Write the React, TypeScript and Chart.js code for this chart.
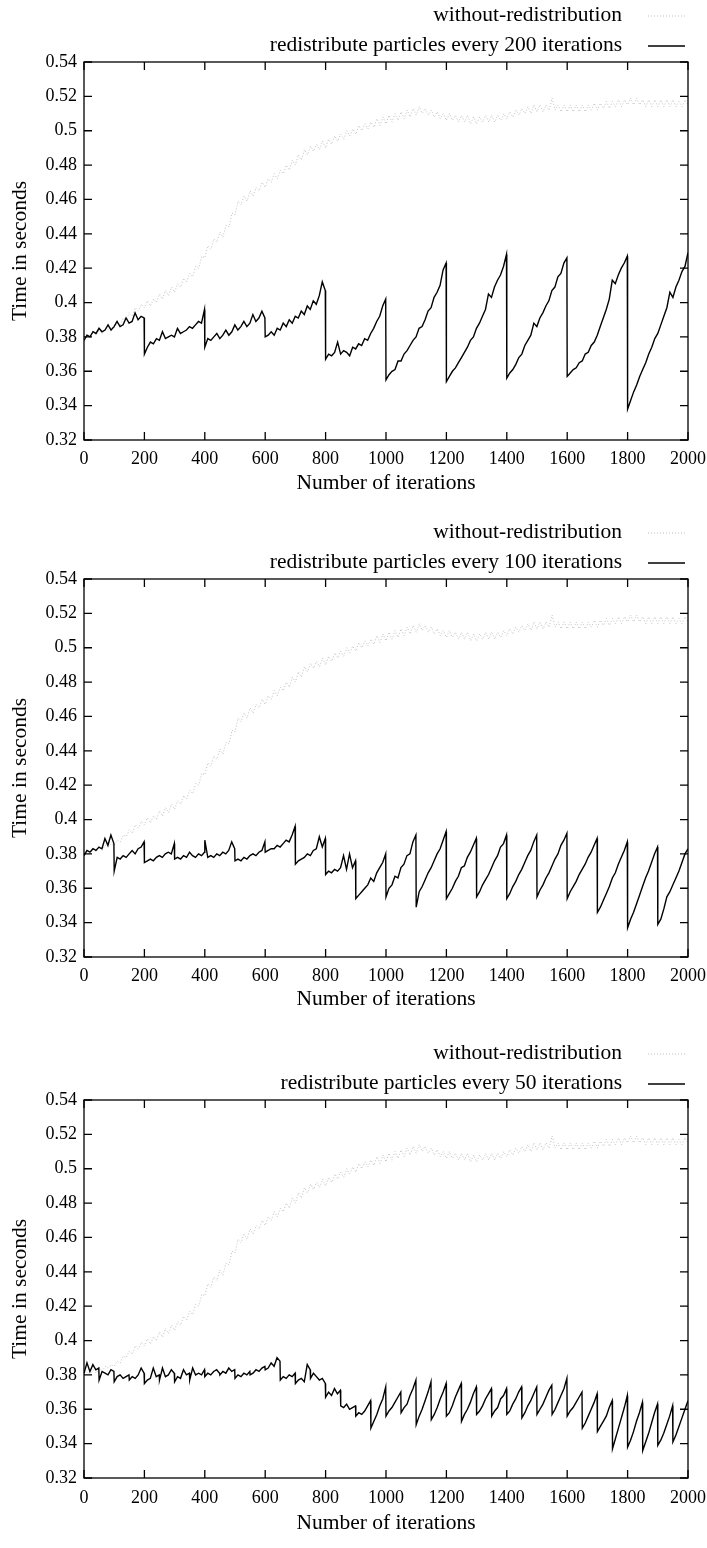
import React, { useEffect, useRef } from "react";
import { Chart, registerables } from "chart.js";

Chart.register(...registerables);

// ---------- axes ----------
const ITER_MIN = 0;
const ITER_MAX = 2000;
const X_TICKS = [0, 200, 400, 600, 800, 1000, 1200, 1400, 1600, 1800, 2000];
const Y_TICKS = [0.32, 0.34, 0.36, 0.38, 0.4, 0.42, 0.44, 0.46, 0.48, 0.5, 0.52, 0.54];
const X_TITLE = "Number of iterations";
const Y_TITLE = "Time in seconds";

// ---------- baseline series (sampled every 10 iterations, 0..2000) ----------
const BASE_LABEL = "without-redistribution";
const BASE_STEP = 10;
const WITHOUT_REDISTRIBUTION = [
  0.380, 0.382, 0.380, 0.383, 0.381, 0.384, 0.382, 0.385, 0.384, 0.386,
  0.385, 0.388, 0.387, 0.391, 0.390, 0.394, 0.392, 0.397, 0.395, 0.399,
  0.397, 0.401, 0.398, 0.402, 0.400, 0.405, 0.402, 0.407, 0.404, 0.409,
  0.406, 0.411, 0.409, 0.414, 0.412, 0.417, 0.415, 0.421, 0.420, 0.427,
  0.426, 0.433, 0.431, 0.437, 0.435, 0.441, 0.438, 0.445, 0.444, 0.452,
  0.451, 0.459, 0.457, 0.462, 0.459, 0.465, 0.462, 0.467, 0.465, 0.470,
  0.467, 0.472, 0.470, 0.475, 0.472, 0.477, 0.475, 0.480, 0.477, 0.483,
  0.480, 0.486, 0.483, 0.489, 0.486, 0.491, 0.488, 0.492, 0.489, 0.494,
  0.490, 0.495, 0.492, 0.497, 0.494, 0.498, 0.495, 0.500, 0.497, 0.501,
  0.498, 0.503, 0.500, 0.504, 0.501, 0.505, 0.502, 0.507, 0.503, 0.508,
  0.504, 0.509, 0.505, 0.510, 0.506, 0.511, 0.507, 0.512, 0.508, 0.513,
  0.509, 0.514, 0.510, 0.513, 0.509, 0.512, 0.508, 0.511, 0.507, 0.510,
  0.506, 0.510, 0.506, 0.509, 0.505, 0.509, 0.505, 0.509, 0.504, 0.508,
  0.504, 0.508, 0.505, 0.509, 0.505, 0.509, 0.505, 0.509, 0.506, 0.510,
  0.507, 0.511, 0.508, 0.512, 0.509, 0.513, 0.510, 0.514, 0.510, 0.515,
  0.511, 0.515, 0.511, 0.515, 0.512, 0.519, 0.512, 0.515, 0.511, 0.515,
  0.511, 0.515, 0.511, 0.515, 0.511, 0.515, 0.511, 0.515, 0.512, 0.516,
  0.512, 0.516, 0.513, 0.517, 0.513, 0.517, 0.514, 0.518, 0.514, 0.518,
  0.515, 0.519, 0.515, 0.519, 0.515, 0.518, 0.514, 0.518, 0.514, 0.518,
  0.514, 0.518, 0.514, 0.518, 0.514, 0.518, 0.514, 0.517, 0.514, 0.518,
  0.515,
];

// ---------- redistribution series: one list of readings per reset period ----------
const LABEL_200 = "redistribute particles every 200 iterations";
const PERIOD_200 = 200;
const SEGMENTS_200 = [
  [0.378, 0.381, 0.380, 0.383, 0.382, 0.385, 0.383, 0.384, 0.387, 0.384, 0.386, 0.389, 0.386, 0.387, 0.391, 0.388, 0.389, 0.394, 0.390, 0.392, 0.391],
  [0.370, 0.374, 0.377, 0.376, 0.379, 0.378, 0.383, 0.379, 0.380, 0.381, 0.380, 0.385, 0.382, 0.383, 0.384, 0.386, 0.385, 0.387, 0.389, 0.388, 0.396],
  [0.374, 0.379, 0.378, 0.380, 0.382, 0.379, 0.381, 0.384, 0.381, 0.383, 0.387, 0.384, 0.386, 0.389, 0.386, 0.388, 0.393, 0.389, 0.391, 0.395, 0.391],
  [0.380, 0.381, 0.383, 0.381, 0.385, 0.384, 0.388, 0.386, 0.390, 0.388, 0.392, 0.391, 0.395, 0.393, 0.398, 0.396, 0.401, 0.399, 0.404, 0.412, 0.407],
  [0.367, 0.370, 0.369, 0.371, 0.377, 0.370, 0.372, 0.371, 0.369, 0.374, 0.373, 0.376, 0.375, 0.379, 0.378, 0.382, 0.385, 0.389, 0.392, 0.398, 0.402],
  [0.355, 0.358, 0.360, 0.361, 0.366, 0.366, 0.370, 0.372, 0.375, 0.378, 0.380, 0.385, 0.386, 0.390, 0.395, 0.397, 0.403, 0.406, 0.410, 0.419, 0.423],
  [0.354, 0.357, 0.360, 0.362, 0.365, 0.368, 0.371, 0.374, 0.378, 0.380, 0.385, 0.388, 0.392, 0.396, 0.405, 0.403, 0.409, 0.413, 0.416, 0.421, 0.428],
  [0.356, 0.359, 0.361, 0.364, 0.368, 0.370, 0.375, 0.378, 0.381, 0.388, 0.386, 0.391, 0.394, 0.398, 0.401, 0.407, 0.409, 0.415, 0.417, 0.423, 0.426],
  [0.357, 0.359, 0.361, 0.362, 0.365, 0.366, 0.370, 0.371, 0.375, 0.377, 0.381, 0.386, 0.391, 0.396, 0.402, 0.413, 0.411, 0.416, 0.420, 0.423, 0.427],
  [0.338, 0.343, 0.348, 0.352, 0.357, 0.361, 0.365, 0.370, 0.374, 0.379, 0.382, 0.387, 0.392, 0.397, 0.406, 0.403, 0.409, 0.413, 0.418, 0.421, 0.429],
];

const LABEL_100 = "redistribute particles every 100 iterations";
const PERIOD_100 = 100;
const SEGMENTS_100 = [
  [0.379, 0.382, 0.381, 0.383, 0.382, 0.384, 0.383, 0.389, 0.385, 0.391, 0.386],
  [0.370, 0.378, 0.377, 0.379, 0.378, 0.380, 0.382, 0.380, 0.383, 0.384, 0.387],
  [0.375, 0.376, 0.377, 0.376, 0.378, 0.379, 0.378, 0.380, 0.381, 0.380, 0.386],
  [0.377, 0.378, 0.377, 0.379, 0.378, 0.381, 0.379, 0.378, 0.380, 0.379, 0.381],
  [0.388, 0.378, 0.379, 0.378, 0.380, 0.379, 0.381, 0.380, 0.382, 0.387, 0.383],
  [0.376, 0.377, 0.376, 0.378, 0.377, 0.379, 0.380, 0.379, 0.381, 0.382, 0.387],
  [0.381, 0.382, 0.383, 0.383, 0.385, 0.384, 0.386, 0.388, 0.387, 0.391, 0.396],
  [0.374, 0.376, 0.377, 0.378, 0.380, 0.379, 0.382, 0.383, 0.390, 0.384, 0.389],
  [0.368, 0.370, 0.369, 0.371, 0.370, 0.372, 0.379, 0.371, 0.380, 0.372, 0.376],
  [0.354, 0.356, 0.358, 0.360, 0.362, 0.366, 0.364, 0.369, 0.372, 0.375, 0.380],
  [0.355, 0.360, 0.362, 0.367, 0.366, 0.372, 0.374, 0.379, 0.380, 0.387, 0.391],
  [0.349, 0.358, 0.361, 0.365, 0.369, 0.372, 0.376, 0.380, 0.383, 0.388, 0.393],
  [0.354, 0.357, 0.360, 0.364, 0.367, 0.372, 0.373, 0.378, 0.381, 0.385, 0.389],
  [0.355, 0.358, 0.362, 0.365, 0.368, 0.372, 0.376, 0.379, 0.384, 0.386, 0.391],
  [0.354, 0.357, 0.361, 0.364, 0.368, 0.371, 0.375, 0.379, 0.382, 0.387, 0.391],
  [0.355, 0.359, 0.362, 0.366, 0.369, 0.373, 0.377, 0.380, 0.385, 0.388, 0.392],
  [0.354, 0.358, 0.361, 0.364, 0.368, 0.371, 0.374, 0.378, 0.381, 0.385, 0.389],
  [0.346, 0.349, 0.353, 0.357, 0.361, 0.366, 0.369, 0.374, 0.378, 0.382, 0.387],
  [0.337, 0.342, 0.346, 0.351, 0.356, 0.361, 0.366, 0.370, 0.375, 0.380, 0.384],
  [0.339, 0.342, 0.348, 0.355, 0.358, 0.362, 0.366, 0.370, 0.375, 0.380, 0.383],
];

const LABEL_50 = "redistribute particles every 50 iterations";
const PERIOD_50 = 50;
const SEGMENTS_50 = [
  [0.381, 0.387, 0.382, 0.386, 0.383, 0.384],
  [0.377, 0.382, 0.381, 0.380, 0.383, 0.382],
  [0.376, 0.379, 0.380, 0.378, 0.379, 0.380],
  [0.377, 0.379, 0.378, 0.380, 0.384, 0.381],
  [0.375, 0.377, 0.378, 0.384, 0.379, 0.380],
  [0.377, 0.384, 0.379, 0.380, 0.383, 0.381],
  [0.376, 0.379, 0.378, 0.383, 0.380, 0.381],
  [0.377, 0.384, 0.380, 0.381, 0.380, 0.383],
  [0.379, 0.381, 0.380, 0.382, 0.383, 0.381],
  [0.380, 0.382, 0.381, 0.384, 0.382, 0.383],
  [0.378, 0.380, 0.379, 0.381, 0.380, 0.382],
  [0.380, 0.381, 0.383, 0.382, 0.384, 0.385],
  [0.383, 0.384, 0.387, 0.385, 0.390, 0.388],
  [0.377, 0.379, 0.378, 0.380, 0.379, 0.381],
  [0.375, 0.377, 0.378, 0.376, 0.386, 0.383],
  [0.378, 0.381, 0.379, 0.377, 0.378, 0.375],
  [0.367, 0.370, 0.368, 0.372, 0.369, 0.371],
  [0.362, 0.361, 0.363, 0.360, 0.361, 0.362],
  [0.356, 0.358, 0.357, 0.359, 0.362, 0.365],
  [0.349, 0.353, 0.357, 0.362, 0.366, 0.373],
  [0.356, 0.359, 0.361, 0.364, 0.367, 0.370],
  [0.358, 0.361, 0.363, 0.368, 0.372, 0.377],
  [0.351, 0.356, 0.360, 0.365, 0.370, 0.376],
  [0.354, 0.357, 0.361, 0.366, 0.370, 0.375],
  [0.356, 0.358, 0.362, 0.367, 0.371, 0.375],
  [0.353, 0.357, 0.360, 0.364, 0.369, 0.373],
  [0.357, 0.359, 0.362, 0.366, 0.369, 0.372],
  [0.356, 0.359, 0.361, 0.366, 0.368, 0.372],
  [0.357, 0.359, 0.363, 0.366, 0.370, 0.373],
  [0.355, 0.358, 0.362, 0.365, 0.369, 0.373],
  [0.357, 0.360, 0.363, 0.367, 0.371, 0.374],
  [0.357, 0.360, 0.364, 0.368, 0.372, 0.378],
  [0.356, 0.359, 0.361, 0.364, 0.367, 0.370],
  [0.349, 0.352, 0.356, 0.360, 0.364, 0.369],
  [0.347, 0.350, 0.353, 0.356, 0.361, 0.365],
  [0.337, 0.343, 0.349, 0.355, 0.361, 0.368],
  [0.338, 0.342, 0.347, 0.353, 0.358, 0.364],
  [0.336, 0.341, 0.346, 0.352, 0.358, 0.363],
  [0.339, 0.342, 0.346, 0.351, 0.356, 0.362],
  [0.341, 0.345, 0.350, 0.355, 0.360, 0.365],
];

// ---------- helpers ----------
const FONT_FAMILY = '"Liberation Serif", "Times New Roman", serif';
const BLOCK_H = 516;
const PLOT_H = 378;

function basePoints() {
  return WITHOUT_REDISTRIBUTION.map((y, i) => ({ x: ITER_MIN + i * BASE_STEP, y }));
}

// each reading list covers one period, from the reset iteration up to just before the next reset
function segmentPoints(segments: number[][], period: number) {
  const pts: { x: number; y: number }[] = [];
  segments.forEach((seg, k) => {
    const start = k * period;
    const end = k === segments.length - 1 ? ITER_MAX : (k + 1) * period - 1;
    const n = seg.length;
    seg.forEach((y, i) => pts.push({ x: start + (i * (end - start)) / (n - 1), y }));
  });
  return pts;
}

const gnuplotFrame = {
  id: "gnuplotFrame",
  afterDatasetsDraw(chart: any) {
    const { ctx, chartArea: a, scales } = chart;
    ctx.save();
    ctx.strokeStyle = "#000";
    ctx.lineWidth = 1.3;
    ctx.strokeRect(a.left, a.top, a.right - a.left, a.bottom - a.top);
    const L = 8;
    ctx.beginPath();
    scales.x.ticks.forEach((t: any) => {
      const px = scales.x.getPixelForValue(t.value);
      ctx.moveTo(px, a.bottom);
      ctx.lineTo(px, a.bottom - L);
      ctx.moveTo(px, a.top);
      ctx.lineTo(px, a.top + L);
    });
    scales.y.ticks.forEach((t: any) => {
      const py = scales.y.getPixelForValue(t.value);
      ctx.moveTo(a.left, py);
      ctx.lineTo(a.left + L, py);
      ctx.moveTo(a.right, py);
      ctx.lineTo(a.right - L, py);
    });
    ctx.stroke();

    // key (top right, gnuplot style)
    const textRight = a.right - 66;
    const sx0 = a.right - 40;
    const sx1 = a.right - 3;
    ctx.font = `21.5px ${FONT_FAMILY}`;
    ctx.textAlign = "right";
    ctx.textBaseline = "middle";
    ctx.fillStyle = "#000";
    chart.data.datasets.forEach((ds: any, i: number) => {
      const y = a.top - 47 + i * 30;
      ctx.fillText(ds.label, textRight, y);
      ctx.save();
      ctx.strokeStyle = ds.borderColor;
      ctx.lineWidth = ds.borderWidth;
      ctx.setLineDash(ds.borderDash || []);
      ctx.beginPath();
      ctx.moveTo(sx0, y + 1);
      ctx.lineTo(sx1, y + 1);
      ctx.stroke();
      ctx.restore();
    });
    ctx.restore();
  },
};

function Plot({
  label,
  segments,
  period,
  top,
  tickPad,
  titlePad,
}: {
  label: string;
  segments: number[][];
  period: number;
  top: number;
  tickPad: number;
  titlePad: number;
}) {
  const ref = useRef<HTMLCanvasElement | null>(null);
  useEffect(() => {
    if (!ref.current) return;
    const chart = new Chart(ref.current, {
      type: "line",
      data: {
        datasets: [
          {
            label: BASE_LABEL,
            data: basePoints(),
            borderColor: "rgba(140,140,140,0.55)",
            borderWidth: 1,
            borderDash: [1, 2],
            pointRadius: 0,
            tension: 0,
            order: 1,
          },
          {
            label,
            data: segmentPoints(segments, period),
            borderColor: "#000",
            borderWidth: 1.4,
            pointRadius: 0,
            tension: 0,
            order: 0,
          },
        ],
      },
      options: {
        animation: false,
        responsive: false,
        devicePixelRatio: 1,
        parsing: false,
        normalized: true,
        layout: { padding: { top, right: 19, left: 0, bottom: 0 } },
        plugins: { legend: { display: false }, tooltip: { enabled: false }, title: { display: false } },
        events: [],
        scales: {
          x: {
            type: "linear",
            min: ITER_MIN,
            max: ITER_MAX,
            afterBuildTicks: (s: any) => {
              s.ticks = X_TICKS.map((v) => ({ value: v }));
            },
            afterFit: (s: any) => {
              s.height = BLOCK_H - top - PLOT_H;
              s.paddingLeft = 0;
              s.paddingRight = 0;
            },
            grid: { display: false, drawTicks: false },
            border: { display: false },
            ticks: {
              color: "#000",
              padding: tickPad,
              maxRotation: 0,
              autoSkip: false,
              font: { family: FONT_FAMILY, size: 18 },
              callback: (v: any) => String(v),
            },
            title: {
              display: true,
              text: X_TITLE,
              color: "#000",
              font: { family: FONT_FAMILY, size: 21.5 },
              padding: { top: 0, bottom: titlePad },
            },
          },
          y: {
            type: "linear",
            min: 0.32,
            max: 0.54,
            afterBuildTicks: (s: any) => {
              s.ticks = Y_TICKS.map((v) => ({ value: v }));
            },
            afterFit: (s: any) => {
              s.width = 84;
              s.paddingTop = 0;
              s.paddingBottom = 0;
            },
            grid: { display: false, drawTicks: false },
            border: { display: false },
            ticks: {
              color: "#000",
              padding: 7,
              autoSkip: false,
              font: { family: FONT_FAMILY, size: 18 },
              callback: (v: any) => String(parseFloat(Number(v).toFixed(2))),
            },
            title: {
              display: true,
              text: Y_TITLE,
              color: "#000",
              font: { family: FONT_FAMILY, size: 21.5 },
              padding: { top: 7, bottom: 0 },
            },
          },
        },
      } as any,
      plugins: [gnuplotFrame],
    });
    return () => chart.destroy();
  }, [label, segments, period, top, tickPad, titlePad]);
  return (
    <canvas ref={ref} width={707} height={BLOCK_H} style={{ display: "block", width: 707, height: BLOCK_H }} />
  );
}

export default function App() {
  return (
    <div
      style={{
        position: "absolute",
        left: 0,
        top: 0,
        width: 707,
        height: 1548,
        overflow: "hidden",
        background: "#fff",
      }}
    >
      <Plot label={LABEL_200} segments={SEGMENTS_200} period={PERIOD_200} top={62} tickPad={8} titlePad={20} />
      <Plot label={LABEL_100} segments={SEGMENTS_100} period={PERIOD_100} top={63} tickPad={8} titlePad={20} />
      <Plot label={LABEL_50} segments={SEGMENTS_50} period={PERIOD_50} top={68} tickPad={9} titlePad={12} />
    </div>
  );
}
